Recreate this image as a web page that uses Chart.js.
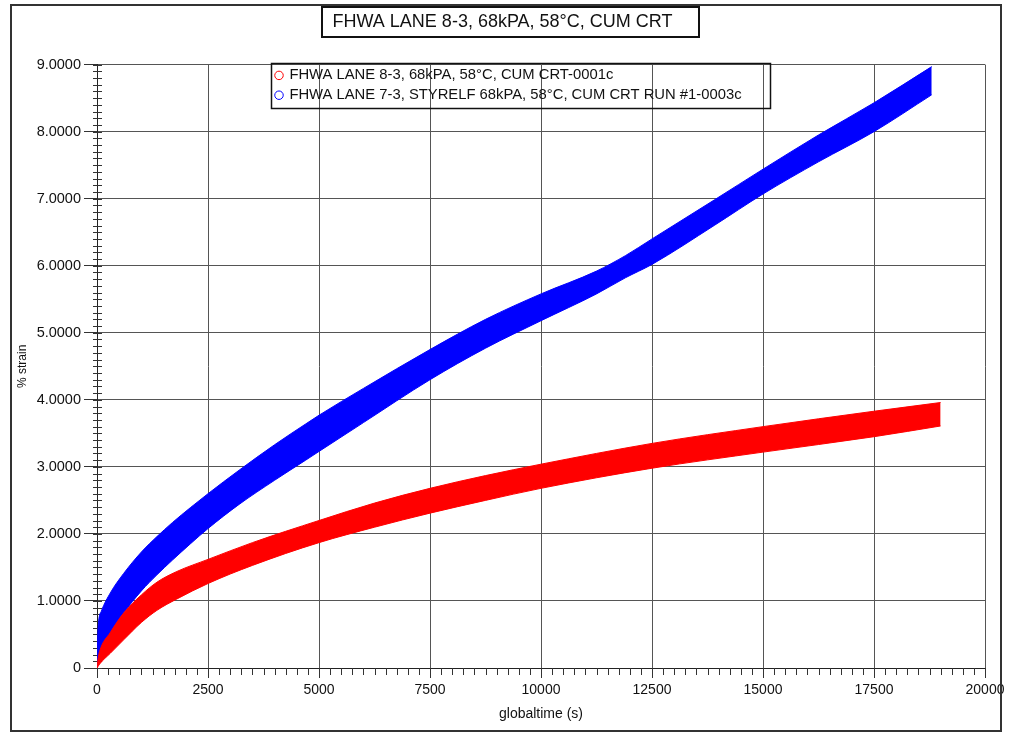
<!DOCTYPE html>
<html>
<head>
<meta charset="utf-8">
<script src="https://cdn.jsdelivr.net/npm/chart.js@4.4.1/dist/chart.umd.min.js"></script>
<style>
html,body{margin:0;padding:0;background:#fff;}
#wrap{position:relative;width:1009px;height:735px;}
</style>
</head>
<body>
<div id="wrap"><canvas id="c" width="1009" height="735"></canvas></div>
<script>
// ---- text ----
const chartTitle = 'FHWA LANE 8-3, 68kPA, 58°C, CUM CRT';
const seriesNames = [
  'FHWA LANE 8-3, 68kPA, 58°C, CUM CRT-0001c',
  'FHWA LANE 7-3, STYRELF 68kPA, 58°C, CUM CRT RUN #1-0003c'
];
const xTitle = 'globaltime (s)';
const yTitle = '% strain';

// ---- axis ticks ----
const xTickValues = [0, 2500, 5000, 7500, 10000, 12500, 15000, 17500, 20000];
const yTickValues = [0, 1, 2, 3, 4, 5, 6, 7, 8, 9];

// ---- series 1 (red): time (s), upper and lower envelope of % strain ----
const redTime  = [0, 20, 60, 300, 600, 1000, 1350, 1800, 2500, 3500, 5000, 6250, 7500, 8750, 10000, 12500, 15000, 17500, 19000];
const redUpper = [0, 0.12, 0.25, 0.53, 0.82, 1.09, 1.28, 1.44, 1.62, 1.87, 2.20, 2.46, 2.68, 2.87, 3.04, 3.35, 3.60, 3.83, 3.96];
const redLower = [0, 0.02, 0.06, 0.22, 0.42, 0.68, 0.86, 1.03, 1.26, 1.53, 1.87, 2.10, 2.31, 2.50, 2.68, 2.98, 3.22, 3.45, 3.61];

// ---- series 2 (blue): time (s), upper and lower envelope of % strain ----
const blueTime  = [0, 20, 100, 300, 600, 1000, 1350, 1700, 2100, 2500, 3200, 4000, 4700, 5000, 6000, 7500, 8750, 10000, 11250, 11900, 12500, 13900, 15000, 16250, 17500, 18800];
const blueUpper = [0, 0.55, 0.85, 1.12, 1.41, 1.73, 1.96, 2.17, 2.39, 2.60, 2.95, 3.33, 3.64, 3.77, 4.17, 4.75, 5.20, 5.58, 5.92, 6.15, 6.40, 6.98, 7.44, 7.95, 8.43, 8.97];
const blueLower = [0, 0.05, 0.25, 0.52, 0.82, 1.15, 1.39, 1.61, 1.85, 2.08, 2.44, 2.80, 3.10, 3.23, 3.66, 4.30, 4.77, 5.18, 5.58, 5.82, 6.02, 6.60, 7.07, 7.55, 8.00, 8.55];

const RED = '#ff0000';
const BLUE = '#0000ff';
const FONT = 'Liberation Sans, Arial, sans-serif';

const toPts = (xs, ys) => xs.map((x, i) => ({x: x, y: ys[i]}));

const lineDs = (label, xs, ys, color, fill) => ({
  label: label,
  data: toPts(xs, ys),
  borderColor: color,
  backgroundColor: color,
  borderWidth: 1,
  pointRadius: 0,
  pointHoverRadius: 0,
  cubicInterpolationMode: 'monotone',
  fill: fill
});

const datasets = [
  lineDs(seriesNames[0], redTime, redUpper, RED, false),
  lineDs(seriesNames[0] + ' (lower)', redTime, redLower, RED, '-1'),
  lineDs(seriesNames[1], blueTime, blueUpper, BLUE, false),
  lineDs(seriesNames[1] + ' (lower)', blueTime, blueLower, BLUE, '-1')
];

const LEGEND_LEFT = 271, LEGEND_TOP = 63;

const decorPlugin = {
  id: 'decor',
  afterLayout(chart) {
    const lg = chart.legend;
    if (lg) {
      const w = lg.width, h = lg.height;
      lg.left = LEGEND_LEFT; lg.top = LEGEND_TOP;
      lg.right = lg.left + w; lg.bottom = lg.top + h;
    }
    const tb = chart.titleBlock;
    if (tb) { tb.left = 20; }
  },
  beforeDatasetsDraw(chart) {
    // minor tick marks, positioned with the library's scales
    const {ctx, scales: {x, y}, chartArea} = chart;
    ctx.save();
    ctx.strokeStyle = '#333';
    ctx.lineWidth = 1;
    ctx.beginPath();
    for (let i = 0; i <= 90; i++) {
      const py = Math.round(y.getPixelForValue(i / 10)) + 0.5;
      ctx.moveTo(chartArea.left - 4, py);
      ctx.lineTo(chartArea.left + 5, py);
    }
    for (let i = 0; i <= 80; i++) {
      const px = Math.round(x.getPixelForValue(i * 250)) + 0.5;
      ctx.moveTo(px, chartArea.bottom);
      ctx.lineTo(px, chartArea.bottom + 7);
    }
    ctx.stroke();
    ctx.restore();
  },
  afterDraw(chart) {
    const ctx = chart.ctx;
    ctx.save();
    // outer frame
    ctx.strokeStyle = '#333';
    ctx.lineWidth = 2;
    ctx.strokeRect(11, 5, 990, 726);
    // title box
    ctx.lineWidth = 2;
    ctx.strokeStyle = '#111';
    ctx.strokeRect(322, 7, 377, 30);
    // legend box
    const lg = chart.legend;
    if (lg && lg.columnSizes && lg.columnSizes.length) {
      const pad = lg.options.labels.padding;
      const cs = lg.columnSizes[0];
      ctx.lineWidth = 1.5;
      ctx.strokeStyle = '#111';
      ctx.strokeRect(Math.round(lg.left) + 0.5, Math.round(lg.top) + 0.5,
        Math.round(cs.width + 2 * pad + 23), Math.round(cs.height + pad));
    }
    ctx.restore();
  }
};

new Chart(document.getElementById('c'), {
  type: 'line',
  data: {datasets: datasets},
  plugins: [decorPlugin],
  options: {
    responsive: false,
    animation: false,
    devicePixelRatio: 1,
    layout: {padding: {left: 0, right: 24, top: 0, bottom: 0}},
    plugins: {
      title: {
        display: true,
        text: chartTitle,
        color: '#111',
        font: {family: FONT, size: 18, weight: 'normal'},
        padding: {top: 11, bottom: 32}
      },
      legend: {
        display: true,
        position: 'chartArea',
        align: 'start',
        labels: {
          color: '#111',
          font: {family: FONT, size: 14.8},
          padding: 5,
          boxWidth: 6,
          boxHeight: 6,
          usePointStyle: true,
          generateLabels(chart) {
            return [0, 2].map(i => {
              const ds = chart.data.datasets[i];
              return {
                text: ds.label,
                fillStyle: '#ffffff',
                strokeStyle: ds.borderColor,
                lineWidth: 1,
                pointStyle: 'circle',
                hidden: false,
                datasetIndex: i,
                fontColor: '#111'
              };
            });
          }
        }
      },
      tooltip: {enabled: false}
    },
    scales: {
      x: {
        type: 'linear',
        min: 0,
        max: 20000,
        afterBuildTicks(scale) { scale.ticks = xTickValues.map(v => ({value: v})); },
        afterFit(scale) { scale.height = 67; },
        ticks: {
          color: '#111',
          font: {family: FONT, size: 14},
          padding: 4,
          maxRotation: 0,
          autoSkip: false,
          callback: v => String(v)
        },
        grid: {color: '#555', lineWidth: 1, tickLength: 10, tickColor: '#333'},
        border: {color: '#222', width: 1},
        title: {
          display: true,
          text: xTitle,
          color: '#111',
          font: {family: FONT, size: 14},
          padding: {top: 0, bottom: 12.6}
        }
      },
      y: {
        type: 'linear',
        min: 0,
        max: 9,
        afterBuildTicks(scale) { scale.ticks = yTickValues.map(v => ({value: v})); },
        afterFit(scale) { scale.width = 97; },
        ticks: {
          color: '#111',
          font: {family: FONT, size: 14.5},
          padding: 3,
          autoSkip: false,
          callback: v => (v === 0 ? '0' : Number(v).toFixed(4))
        },
        grid: {color: '#555', lineWidth: 1, tickLength: 13, tickColor: '#333'},
        border: {color: '#222', width: 1},
        title: {
          display: true,
          text: yTitle,
          color: '#111',
          font: {family: FONT, size: 12},
          padding: {top: 15, bottom: 0}
        }
      }
    }
  }
});
</script>
</body>
</html>
